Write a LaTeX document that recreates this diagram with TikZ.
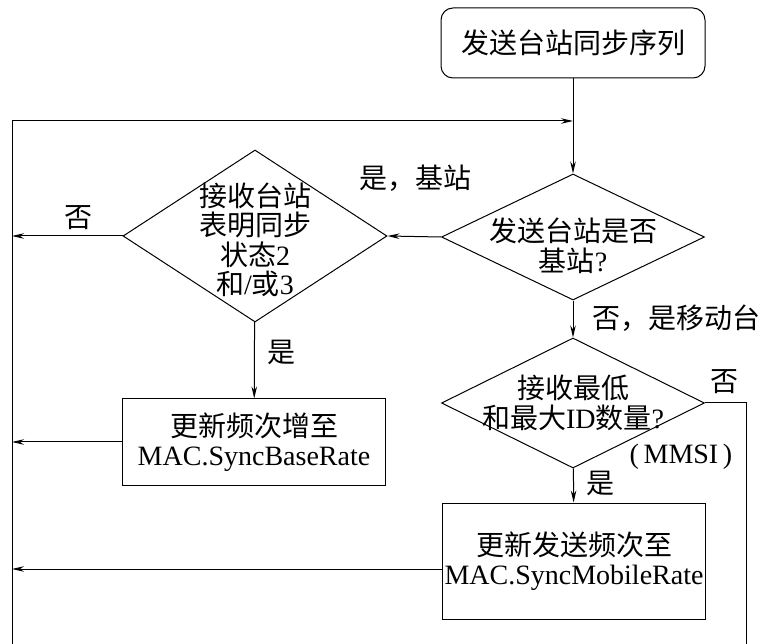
\documentclass[tikz,border=0pt]{standalone}
\usepackage{fontspec}
\setmainfont{Liberation Serif}
\newfontfamily\cjk{Noto Sans CJK SC}
\usepackage{tikz}
\usetikzlibrary{arrows.meta, shapes.geometric, positioning}

\begin{document}
\begin{tikzpicture}[x=1pt, y=-1pt, line width=1pt, >={Stealth[length=12pt, width=5.5pt]},
  every node/.style={font=\fontsize{28}{29.5}\selectfont, align=center},
  startbox/.style={draw, rounded corners=12pt, minimum width=264pt, minimum height=70pt},
  procbox/.style={draw, inner sep=0pt, minimum width=263pt},
  decision/.style={draw, diamond, inner sep=0pt}]

  % Moldura
  \useasboundingbox (0,0) rectangle (761,644);

  % Inicio
  \node[startbox] (start) at (573,43) {{\cjk 发送台站同步序列}};

  % Decisoes
  \node[decision, minimum width=263pt, minimum height=126pt,
    label={[name=d2t, yshift=-9pt]center:{\cjk 发送台站是否}\\{\cjk 基站}?}] (d2) at (573,237) {};
  \node[decision, minimum width=264pt, minimum height=172pt,
    label={[name=d1t, yshift=-4pt]center:{\cjk 接收台站}\\{\cjk 表明同步}\\{\cjk 状态}2\\{\cjk 和}/{\cjk 或}3}] (d1) at (255,236) {};
  \node[decision, minimum width=263pt, minimum height=130pt,
    label={[name=d3t]center:{\cjk 接收最低}\\{\cjk 和最大}ID{\cjk 数量}?}] (d3) at (573,403) {};

  % Caixas
  \node[procbox, minimum height=86pt] (b1) at (254,442) {{\cjk 更新频次增至}\\MAC.SyncBaseRate};
  \node[procbox, minimum height=116pt] (b2) at (574,561) {{\cjk 更新发送频次至}\\MAC.SyncMobileRate};

  % Linhas de retorno
  \coordinate (lt) at (12,121);
  \coordinate (lb) at (12,644);
  \coordinate (join) at (573,121);
  \coordinate (rt) at (746,403);
  \coordinate (rb) at (746,644);

  \draw (lt) -- (lb);
  \draw[->] (lt) -- (join);
  \draw (d3.east) -- (rt) -- (rb);

  % Setas
  \draw[->] (start) -- (d2);
  \draw[->] (d2.west) -- (d1.east);
  \draw[->] (d2) -- (d3);
  \draw[->] (d1) -- (b1);
  \draw[->] (d3) -- (b2);
  \draw[->] (d1.west) -- (d1.west -| lt);
  \draw[->] (b1.west) -- (b1.west -| lt);
  \draw[->] ([yshift=-8pt]b2.west) -- ([yshift=-8pt]b2.west -| lt);

  % Rotulos
  \node (lsimbase) at (415,178) {{\cjk 是，基站}};
  \node (lnao1) at (78,218) {{\cjk 否}};
  \node (lsim1) at (281,352) {{\cjk 是}};
  \node (lnaomovel) at (676,318) {{\cjk 否，是移动台}};
  \node (lnao2) at (724,382) {{\cjk 否}};
  \node (lmmsi) at (681,457) {(\,MMSI\,)};
  \node (lsim2) at (600,483) {{\cjk 是}};

\end{tikzpicture}
\end{document}
